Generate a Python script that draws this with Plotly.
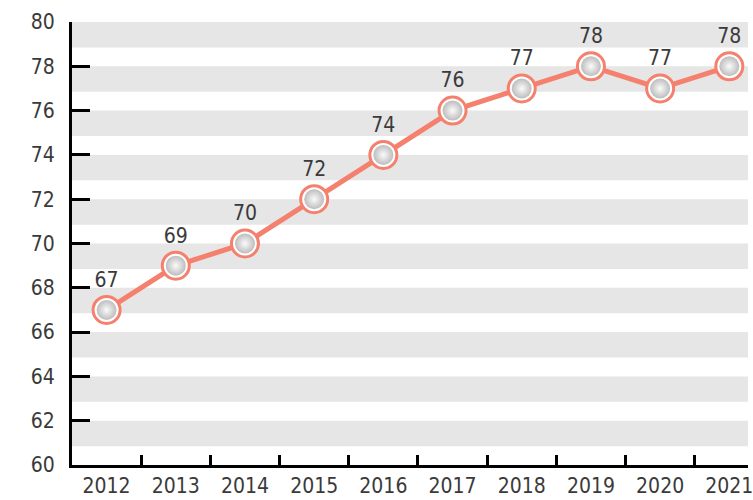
import plotly.graph_objects as go

years = ["2012", "2013", "2014", "2015", "2016", "2017", "2018", "2019", "2020", "2021"]
values = [67, 69, 70, 72, 74, 76, 77, 78, 77, 78]
y_ticks = [60, 62, 64, 66, 68, 70, 72, 74, 76, 78, 80]

LINE = "#f4806d"
FONT = "DejaVu Sans Condensed, sans-serif"
TEXT = "#3a3a3a"

fig = go.Figure()

# grey horizontal bands hanging from each even tick
for v in y_ticks[1:]:
    fig.add_shape(type="rect", xref="paper", yref="y", x0=0, x1=1,
                  y0=v - 1.15, y1=v, fillcolor="#e6e6e6",
                  line_width=0, layer="below")

fig.add_trace(go.Scatter(
    x=years, y=values, mode="lines+markers+text",
    line=dict(color=LINE, width=5),
    marker=dict(size=27, color="white", line=dict(color=LINE, width=3)),
    text=[str(v) for v in values], textposition="top center",
    textfont=dict(family=FONT, size=21, color=TEXT),
    hoverinfo="skip",
))
fig.add_trace(go.Scatter(
    x=years, y=values, mode="markers",
    marker=dict(size=20, color="#bdbdbd",
                gradient=dict(type="radial", color="#fbfbfb"),
                line=dict(width=0)),
    hoverinfo="skip",
))

fig.update_layout(
    width=753, height=500,
    margin=dict(l=72, r=0, t=22, b=35),
    paper_bgcolor="white", plot_bgcolor="white",
    showlegend=False,
    font=dict(family=FONT, size=21, color=TEXT),
)
fig.update_xaxes(
    type="category", range=[-0.5, 9.27],
    showline=True, linecolor="black", linewidth=3,
    ticks="inside", tickson="boundaries", ticklen=10, tickwidth=3,
    tickcolor="black", showgrid=False, zeroline=False,
    tickfont=dict(family=FONT, size=21, color=TEXT),
)
fig.update_yaxes(
    range=[60, 80], tickvals=y_ticks,
    showline=True, linecolor="black", linewidth=3,
    ticks="inside", ticklen=18, tickwidth=3, tickcolor="black",
    showgrid=False, zeroline=False, ticklabelstandoff=10,
    tickfont=dict(family=FONT, size=21, color=TEXT),
)

# drop the browser's default body margin so the figure sits at 0,0
fig.write_html(
    "out.html",
    config={"displayModeBar": False},
    post_script="document.body.style.margin='0';document.body.style.overflow='hidden';",
)
